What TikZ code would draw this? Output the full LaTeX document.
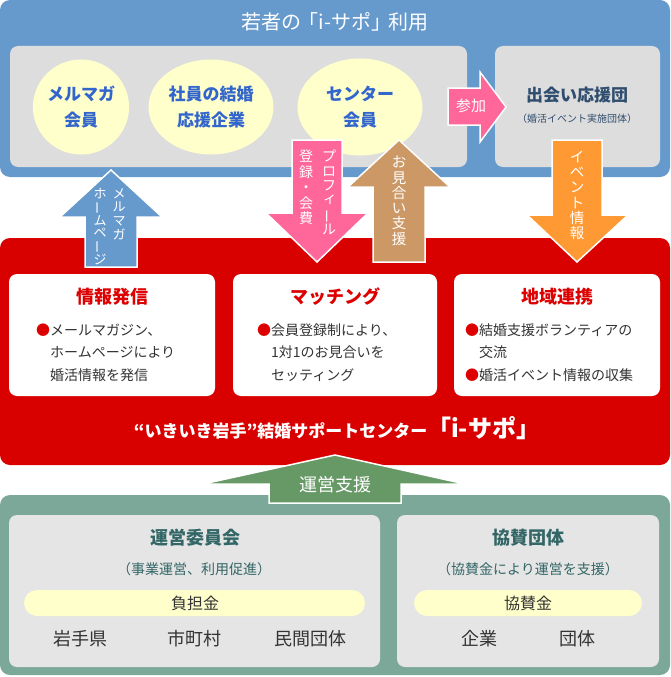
\documentclass[tikz,border=0pt]{standalone}
\usepackage{fontspec}
\usepackage{graphicx}
\setmainfont{Noto Sans CJK JP}
\usetikzlibrary{shapes.geometric}
\definecolor{topblue}{HTML}{6699CC}
\definecolor{panelgray}{HTML}{DDDDDD}
\definecolor{ellyellow}{HTML}{FFFFCC}
\definecolor{membblue}{HTML}{3366CC}
\definecolor{navy}{HTML}{2F4D6E}
\definecolor{pinkc}{HTML}{FF6699}
\definecolor{brownc}{HTML}{CC9966}
\definecolor{orangec}{HTML}{FF9933}
\definecolor{redc}{HTML}{D90000}
\definecolor{titlered}{HTML}{DD0000}
\definecolor{bodygray}{HTML}{333333}
\definecolor{greenarrow}{HTML}{669966}
\definecolor{greenbox}{HTML}{7BA899}
\definecolor{innergray}{HTML}{E5E5E5}
\definecolor{tealtext}{HTML}{336666}
\newcommand\fsz[2]{\fontsize{#1}{#2}\selectfont}
\newcommand\bul{\textcolor{titlered}{●}}
\newcommand\vbar{\rotatebox[origin=c]{90}{ー}}
\newcommand\vsmall[1]{\makebox[1em]{\hspace{0.12em}\raisebox{0.12em}{#1}}}
\begin{document}
\begin{tikzpicture}[x=1pt,y=-1pt,
  member/.style={ellipse, fill=ellyellow, inner sep=0pt, text=membblue, font=\fsz{17}{26}\bfseries, align=center},
  boxtitle/.style={text=titlered, font=\fsz{18}{22}\bfseries},
  bullettext/.style={text=bodygray, font=\fsz{14}{22.5}, align=left, anchor=base west, inner sep=0pt},
  vtext/.style n args={2}{anchor=north, inner sep=0pt, text=white, align=center, font=\fsz{#1}{#2}},
  arrowshape/.style={draw=white, line width=1.5pt},
  whitebox/.style={fill=white, rounded corners=8pt},
  graybox/.style={fill=innergray, rounded corners=8pt},
  pill/.style={fill=ellyellow, rounded corners=13pt},
  orgtitle/.style={text=tealtext, font=\fsz{18}{22}\bfseries},
  orgsub/.style={text=tealtext, font=\fsz{14}{16}},
  member2/.style={text=bodygray, font=\fsz{18}{22}},
  pilltext/.style={text=bodygray, font=\fsz{16}{18}}
]
\useasboundingbox (0,0) rectangle (670,677);

% ---------- top band ----------
\fill[topblue, rounded corners=10pt] (0,0) rectangle (670,177);
\node[text=white, font=\fsz{20}{24}] (title) at (335,22) {若者の\kern-0.15em「i-サポ」\kern-0.15em利用};
\fill[panelgray, rounded corners=8pt] (10,46) rectangle (467,167);
\fill[panelgray, rounded corners=8pt] (495,46) rectangle (660,167);

\node[member, minimum width=95pt, minimum height=95pt] (mm) at (81,107) {メルマガ\\会員};
\node[member, minimum width=125pt, minimum height=95pt] (corp) at (211,107) {社員の結婚\\応援企業};
\node[member, minimum width=125pt, minimum height=97pt] (centermem) at (360,107) {センター\\会員};

\node[text=navy, font=\fsz{17}{20}\bfseries] (deai) at (577,95) {出会い応援団};
\node[text=navy, font=\fsz{10}{12}] (deaisub) at (577,119) {（婚活イベント実施団体）};

% 参加 arrow
\fill[pinkc, arrowshape] (448,88) -- (480,88) -- (480,72) -- (506,107) -- (480,142) -- (480,125) -- (448,125) -- cycle;
\node[text=white, font=\fsz{15}{18}] (sanka) at (471,106) {参加};

% ---------- red band ----------
\fill[redc, rounded corners=10pt] (0,238) rectangle (670,465);

\fill[whitebox] (9,274) rectangle (215,396);
\fill[whitebox] (233,274) rectangle (437,396);
\fill[whitebox] (454,274) rectangle (660,396);

\node[boxtitle] (t1) at (112,297) {情報発信};
\node[boxtitle] (t2) at (335,297) {マッチング};
\node[boxtitle] (t3) at (557,297) {地域連携};

\node[bullettext] (b1) at (36,380) {\bul メールマガジン、\\\phantom{●}ホームページにより\\\phantom{●}婚活情報を発信};
\node[bullettext] (b2) at (257,380) {\bul 会員登録制により、\\\phantom{●}1対1のお見合いを\\\phantom{●}セッティング};
\node[bullettext] (b3) at (465,380) {\bul 結婚支援ボランティアの\\\phantom{●}交流\\\bul 婚活イベント情報の収集};

\node[text=white, anchor=base, inner sep=0pt] (isapo) at (337,437) {{\fsz{17}{20}\bfseries “いきいき岩手”結婚サポートセンター}{\fsz{24}{28}\bfseries 「i-サポ」}};

% ---------- vertical arrows ----------
\fill[topblue, arrowshape] (85,267) -- (85,217) -- (60,217) -- (111,170) -- (162,217) -- (137,217) -- (137,267) -- cycle;
\node[vtext={13}{13.7}] (v1a) at (119,188) {メ\\ル\\マ\\ガ};
\node[vtext={13}{12.2}] (v1b) at (100,188) {ホ\\\vbar\\ム\\ペ\\\vbar\\ジ};

\fill[pinkc, arrowshape] (292,140) -- (342,140) -- (342,213) -- (368,213) -- (317,262) -- (266,213) -- (292,213) -- cycle;
\node[vtext={14}{14.3}] (v2a) at (329,150) {プ\\ロ\\フ\\\vsmall{ィ}\\\vbar\\ル};
\node[vtext={14}{15.5}] (v2b) at (306,150) {登\\録\\・\\会\\費};

\fill[brownc, arrowshape] (373,262) -- (373,187) -- (348,187) -- (399,140) -- (450,187) -- (425,187) -- (425,262) -- cycle;
\node[vtext={14.5}{15.3}] (v3) at (399,156) {お\\見\\合\\い\\支\\援};

\fill[orangec, arrowshape] (552,140) -- (602,140) -- (602,215) -- (628,215) -- (577,262) -- (527,215) -- (552,215) -- cycle;
\node[vtext={14.5}{15.2}] (v4) at (577,151) {イ\\ベ\\ン\\ト\\情\\報};

% ---------- bottom band ----------
\fill[greenbox, rounded corners=10pt] (0,495) rectangle (670,675);
\fill[graybox] (9,515) rectangle (380,667);
\fill[graybox] (397,515) rectangle (659,667);

\node[orgtitle] (o1) at (195,538) {運営委員会};
\node[orgsub] (o1s) at (194,569) {（事業運営、利用促進）};
\fill[pill] (24,590) rectangle (365,616);
\node[pilltext] (p1) at (195,603) {負担金};
\node[member2] (m1) at (80,639) {岩手県};
\node[member2] (m2) at (194,639) {市町村};
\node[member2] (m3) at (310,639) {民間団体};

\node[orgtitle] (o2) at (528,538) {協賛団体};
\node[orgsub] (o2s) at (528,569) {（協賛金により運営を支援）};
\fill[pill] (414,590) rectangle (642,616);
\node[pilltext] (p2) at (528,603) {協賛金};
\node[member2] (m4) at (479,639) {企業};
\node[member2] (m5) at (577,639) {団体};

% 運営支援 arrow
\fill[greenarrow, arrowshape] (269,503) -- (269,484) -- (203,484) -- (335,455) -- (465,484) -- (401,484) -- (401,503) -- cycle;
\node[text=white, font=\fsz{18}{20}] (unei) at (335,485) {運営支援};
\end{tikzpicture}
\end{document}
